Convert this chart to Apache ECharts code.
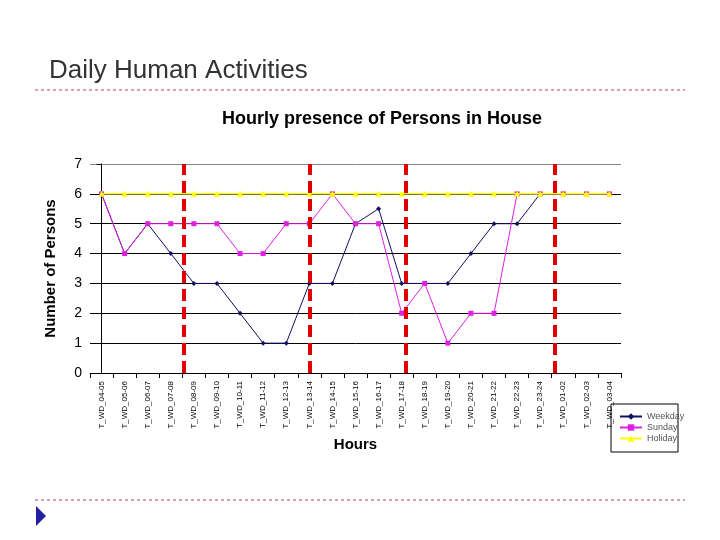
<!DOCTYPE html><html><head><meta charset="utf-8"><script src="https://cdn.jsdelivr.net/npm/echarts@6/dist/echarts.min.js"></script></head><body style="margin:0"><div id="c" style="width:720px;height:540px"></div><script>
var categories=['T_WD_04-05','T_WD_05-06','T_WD_06-07','T_WD_07-08','T_WD_08-09','T_WD_09-10','T_WD_10-11','T_WD_11-12','T_WD_12-13','T_WD_13-14','T_WD_14-15','T_WD_15-16','T_WD_16-17','T_WD_17-18','T_WD_18-19','T_WD_19-20','T_WD_20-21','T_WD_21-22','T_WD_22-23','T_WD_23-24','T_WD_01-02','T_WD_02-03','T_WD_03-04'];
var weekday=[6,4,5,4,3,3,2,1,1,3,3,5,5.5,3,3,3,4,5,5,6,6,6,6];
var sunday=[6,4,5,5,5,5,4,4,5,5,6,5,5,2,3,1,2,2,6,6,6,6,6];
var holiday=[6,6,6,6,6,6,6,6,6,6,6,6,6,6,6,6,6,6,6,6,6,6,6];
var dividers=[3.55,9.0,13.16,19.65];
var ch=echarts.init(document.getElementById('c'));
ch.setOption({
 animation:false,backgroundColor:'#fff',
 title:[{text:'Daily Human Activities',left:44,top:53,textStyle:{fontFamily:'Liberation Sans',fontSize:26,fontWeight:'normal',color:'#333'}},
  {text:'Hourly presence of Persons in House',left:377,textAlign:'center',top:105,textStyle:{fontFamily:'Liberation Sans',fontSize:18,fontWeight:'bold',color:'#000'}}],
 legend:{orient:'vertical',left:614,top:407,itemGap:2,itemWidth:22,itemHeight:8,textStyle:{fontSize:9,fontFamily:'Liberation Sans'},data:['Weekday','Sunday','Holiday']},
 grid:{left:90,right:99,top:164,bottom:167},
 xAxis:[{type:'category',data:categories,boundaryGap:true,name:'Hours',nameLocation:'middle',nameGap:64,nameTextStyle:{fontSize:15,fontWeight:'bold',fontFamily:'Liberation Sans',color:'#000'},axisLine:{lineStyle:{color:'#000'}},axisTick:{show:true,lineStyle:{color:'#000'}},axisLabel:{interval:0,rotate:90,fontSize:8,color:'#000',fontFamily:'Liberation Sans'}},
  {type:'value',min:-0.5,max:22.5,show:false}],
 yAxis:{type:'value',min:0,max:7,interval:1,name:'Number of Persons',nameLocation:'middle',nameGap:32,nameTextStyle:{fontSize:15,fontWeight:'bold',fontFamily:'Liberation Sans',color:'#000'},axisLine:{show:true,lineStyle:{color:'#000'}},axisTick:{show:true},axisLabel:{fontSize:14,color:'#000',fontFamily:'Liberation Sans'},splitLine:{lineStyle:{color:['#000','#000','#000','#000','#000','#000','#000','#888']}}},
 series:[
  {name:'Weekday',type:'line',data:weekday,z:2,color:'#101060',symbol:'diamond',symbolSize:5,lineStyle:{width:1}},
  {name:'Sunday',type:'line',data:sunday,z:3,color:'#e020e0',symbol:'rect',symbolSize:5,lineStyle:{width:1}},
  {name:'Holiday',type:'line',data:holiday,z:4,color:'#ffff00',symbol:'triangle',symbolSize:6,lineStyle:{width:1.5}},
  {type:'line',xAxisIndex:1,data:[],markLine:{silent:true,symbol:'none',label:{show:false},lineStyle:{color:'#e00000',type:[12,6],width:4},data:dividers.map(function(v){return {xAxis:v};})}}
 ],
 graphic:[
  {type:'line',shape:{x1:35,y1:90,x2:685,y2:90},style:{stroke:'#c04070',lineDash:[3,3],lineWidth:1}},
  {type:'line',shape:{x1:35,y1:500,x2:685,y2:500},style:{stroke:'#c04070',lineDash:[3,3],lineWidth:1}},
  {type:'polygon',shape:{points:[[36,506],[36,526],[46,516]]},style:{fill:'#2020a0'}},
  {type:'rect',shape:{x:611,y:404,width:67,height:48},style:{fill:'none',stroke:'#000',lineWidth:1}}
 ]
});
</script></body></html>
